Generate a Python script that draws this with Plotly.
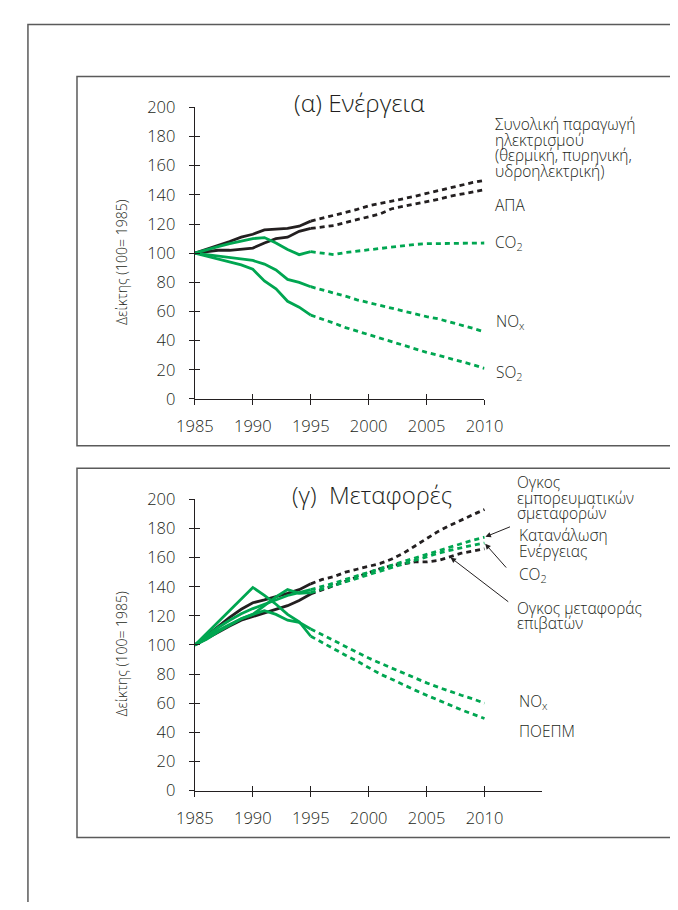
import plotly.graph_objects as go

# ---------------- data ----------------
years_hist = list(range(1985, 1996))
years_proj = list(range(1995, 2011))
x_ticks = [1985, 1990, 1995, 2000, 2005, 2010]
y_ticks = [0, 20, 40, 60, 80, 100, 120, 140, 160, 180, 200]

# (α) Ενέργεια
elec_hist = [100, 102.5, 105, 108, 111, 113, 116, 116.5, 117, 118.5, 122]
elec_proj = [122, 124, 125.5, 127.5, 130, 132.5, 134, 135.5, 137, 139, 141, 143, 145, 147, 148.5, 150]
gdp_hist = [100, 101, 102, 102, 102.5, 103.5, 107, 110, 111, 115, 117]
gdp_proj = [117, 118, 119, 121, 123, 125, 127, 130.5, 132, 133.5, 135, 137, 139, 140.5, 142, 143.5]
co2_e_hist = [100, 102.5, 104.5, 106.5, 108.5, 110, 110.7, 107, 102.5, 99, 101]
co2_e_proj = [101, 100, 99, 100.5, 101.5, 102, 103, 104, 105, 106, 106.5, 106.5, 106.5, 107, 107, 107]
nox_e_hist = [100, 99, 98, 96.5, 95.5, 95, 92.5, 88.5, 82, 80, 77]
nox_e_proj = [77, 75, 73, 70.5, 68, 66, 64, 62, 60, 58, 56.5, 55, 53, 51, 48.5, 46]
so2_hist = [100, 98, 96, 94.5, 92, 89, 81, 75.5, 67, 63, 57.5]
so2_proj = [57.5, 55, 52, 49, 46.5, 44, 41.5, 39, 36.5, 34, 32, 30, 28, 26, 23.5, 21]

# (γ) Μεταφορές
freight_hist = [100, 106.5, 113, 119, 124.5, 129, 131, 133, 135.5, 138, 142]
freight_proj = [142, 145, 147, 150, 152, 154, 156, 159, 163, 168, 173, 178, 182, 186, 189.5, 193]
energy_t_hist = [100, 106, 112, 117, 121.5, 125, 128, 131.5, 134, 136, 138]
energy_t_proj = [138, 140, 142.5, 145, 147.5, 150, 152.5, 155, 157.5, 160, 162.5, 165, 167.5, 170, 172, 174]
co2_t_hist = [100, 105, 110, 114, 118, 121, 127, 133, 138, 135.5, 136]
co2_t_proj = [136, 138.5, 141, 143.5, 146, 148.5, 151, 153.5, 156, 158.5, 161, 163, 165, 167, 168.5, 170]
pass_hist = [100, 104.5, 109, 113, 117, 119.5, 121.5, 124, 127, 130.5, 135]
pass_proj = [135, 138, 141, 144, 147, 150, 152.5, 154.5, 156, 157, 157, 158, 160.5, 163, 164.5, 166]
nox_t_hist = [100, 104, 109, 113.5, 118, 121, 123.5, 121, 117, 115.5, 111]
nox_t_proj = [111, 107, 102.5, 98.5, 94.5, 91, 87.5, 84, 80.5, 77.5, 74, 71, 68, 65.5, 63, 60]
voc_hist = [100, 108, 116, 124, 131.5, 139.5, 134, 128, 121, 116, 106]
voc_proj = [106, 101.5, 97, 93, 89, 84.5, 80, 76.5, 72.5, 69, 65.5, 62, 59, 55.5, 52.5, 49.5]

# ---------------- style ----------------
OFF = 8                 # default page body margin
W, H = 678 - OFF, 910 - 2 * OFF
GREEN = "#00a651"
BLACK = "#231f20"
FRAME = "#5a5a5a"
FONT = "Open Sans"
WEIGHT = 300
LW = 2.8
DASH = "5px,4px"


def px(x):
    return (x - OFF) / W


def py(y):
    return 1 - (y - OFF) / H


fig = go.Figure()

panel1 = [
    (elec_hist, elec_proj, BLACK),
    (gdp_hist, gdp_proj, BLACK),
    (co2_e_hist, co2_e_proj, GREEN),
    (nox_e_hist, nox_e_proj, GREEN),
    (so2_hist, so2_proj, GREEN),
]
panel2 = [
    (freight_hist, freight_proj, BLACK),
    (pass_hist, pass_proj, BLACK),
    (energy_t_hist, energy_t_proj, GREEN),
    (co2_t_hist, co2_t_proj, GREEN),
    (nox_t_hist, nox_t_proj, GREEN),
    (voc_hist, voc_proj, GREEN),
]

for (hist, proj, col), (xa, ya) in [(p, ("x", "y")) for p in panel1] + [(p, ("x2", "y2")) for p in panel2]:
    fig.add_trace(go.Scatter(x=years_hist, y=hist, mode="lines", xaxis=xa, yaxis=ya,
                             line=dict(color=col, width=LW), showlegend=False, hoverinfo="skip"))
    fig.add_trace(go.Scatter(x=years_proj, y=proj, mode="lines", xaxis=xa, yaxis=ya,
                             line=dict(color=col, width=LW, dash=DASH), showlegend=False, hoverinfo="skip"))

# dummy traces for overlay axes (inside half of crossing ticks)
fig.add_trace(go.Scatter(x=[None], y=[None], xaxis="x3", yaxis="y3", showlegend=False, hoverinfo="skip"))
fig.add_trace(go.Scatter(x=[None], y=[None], xaxis="x4", yaxis="y4", showlegend=False, hoverinfo="skip"))

tickfont = dict(family=FONT, size=16.5, color=BLACK, weight=WEIGHT)
X0 = px(186)
X1a = px(493)
X1b = px(554.4)
dom1 = [py(397), py(97.7)]
dom2 = [py(799), py(500)]

base_x = dict(tickvals=x_ticks, ticks="outside", ticklen=5, tickwidth=1.3, tickcolor=BLACK,
              showline=True, linecolor=BLACK, linewidth=1.3, showgrid=False, zeroline=False,
              tickfont=tickfont, ticklabelstandoff=7, fixedrange=True)
base_y = dict(tickvals=y_ticks, ticks="outside", ticklen=5, tickwidth=1.3, tickcolor=BLACK,
              showline=True, linecolor=BLACK, linewidth=1.3, showgrid=False, zeroline=False,
              tickfont=tickfont, ticklabelstandoff=10, fixedrange=True)
ov_x = dict(tickvals=x_ticks, ticks="inside", ticklen=5, tickwidth=1.3, tickcolor=BLACK,
            showline=False, showgrid=False, zeroline=False, showticklabels=False, fixedrange=True)
ov_y = dict(tickvals=y_ticks, ticks="inside", ticklen=5, tickwidth=1.3, tickcolor=BLACK,
            showline=False, showgrid=False, zeroline=False, showticklabels=False, fixedrange=True)

fig.update_layout(
    width=W, height=H,
    margin=dict(l=0, r=0, t=0, b=0),
    paper_bgcolor="white", plot_bgcolor="rgba(0,0,0,0)",
    font=dict(family=FONT, color=BLACK, weight=WEIGHT),
    xaxis=dict(base_x, domain=[X0, X1a], range=[1985, 2010], anchor="y"),
    yaxis=dict(base_y, domain=dom1, range=[0, 200], anchor="x"),
    xaxis2=dict(base_x, domain=[X0, X1b], range=[1985, 2015], anchor="y2"),
    yaxis2=dict(base_y, domain=dom2, range=[0, 200], anchor="x2"),
    xaxis3=dict(ov_x, range=[1985, 2010], overlaying="x", anchor="y"),
    yaxis3=dict(ov_y, range=[0, 200], overlaying="y", anchor="x"),
    xaxis4=dict(ov_x, range=[1985, 2015], overlaying="x2", anchor="y2"),
    yaxis4=dict(ov_y, range=[0, 200], overlaying="y2", anchor="x2"),
)

# frames
frame = dict(color=FRAME, width=1.5)
fig.add_shape(type="rect", xref="paper", yref="paper", x0=px(9), x1=1.05, y0=-0.05, y1=py(12.7), line=frame)
fig.add_shape(type="rect", xref="paper", yref="paper", x0=px(61), x1=1.05, y0=py(445), y1=py(66), line=frame)
fig.add_shape(type="rect", xref="paper", yref="paper", x0=px(61), x1=1.05, y0=py(847), y1=py(468), line=frame)


def txt(x, y, s, size=15.5, anchor="left", angle=0):
    fig.add_annotation(x=px(x), y=py(y), xref="paper", yref="paper", text=s, showarrow=False,
                       xanchor=anchor, yanchor="middle", textangle=angle,
                       font=dict(family=FONT, size=size, color=BLACK, weight=WEIGHT))


# titles
txt(360, 93, "(α) Ενέργεια", size=24.5, anchor="center")
txt(374, 495, "(γ)  Μεταφορές", size=24, anchor="center")

# y-axis titles
txt(108, 256, "Δείκτης (100= 1985)", size=14, anchor="center", angle=-90)
txt(108, 658, "Δείκτης (100= 1985)", size=14, anchor="center", angle=-90)

# panel 1 labels
for i, line in enumerate(["Συνολική παραγωγή", "ηλεκτρισμού", "(θερμική, πυρηνική,", "υδροηλεκτρική)"]):
    txt(502, 115 + 16 * i, line)
txt(502, 198, "ΑΠΑ")
txt(502, 236, "CO<sub>2</sub>")
txt(503, 317, "NO<sub>x</sub>")
txt(503, 370, "SO<sub>2</sub>")

# panel 2 labels
for i, line in enumerate(["Ογκος", "εμπορευματικών", "σμεταφορών"]):
    txt(525, 482.7 + 15.5 * i, line)
for i, line in enumerate(["Κατανάλωση", "Ενέργειας"]):
    txt(527, 536.7 + 16.6 * i, line)
txt(527, 576.7, "CO<sub>2</sub>")
for i, line in enumerate(["Ογκος μεταφοράς", "επιβατών"]):
    txt(525, 611.7 + 15.6 * i, line)
txt(527, 707, "NO<sub>x</sub>")
txt(527, 738, "ΠΟΕΠΜ")

# arrows
arrow = dict(showarrow=True, arrowhead=2, arrowsize=1.1, arrowwidth=1, arrowcolor=BLACK, text="",
             xref="x2", yref="y2", axref="pixel", ayref="pixel", standoff=1)
fig.add_annotation(arrow, x=years_proj[-1], y=energy_t_proj[-1], ax=27, ay=-11)
fig.add_annotation(arrow, x=years_proj[-1], y=co2_t_proj[-1], ax=23, ay=26)
fig.add_annotation(arrow, x=years_proj[12], y=pass_proj[12], ax=60, ay=46)

fig.write_html("out.html")
